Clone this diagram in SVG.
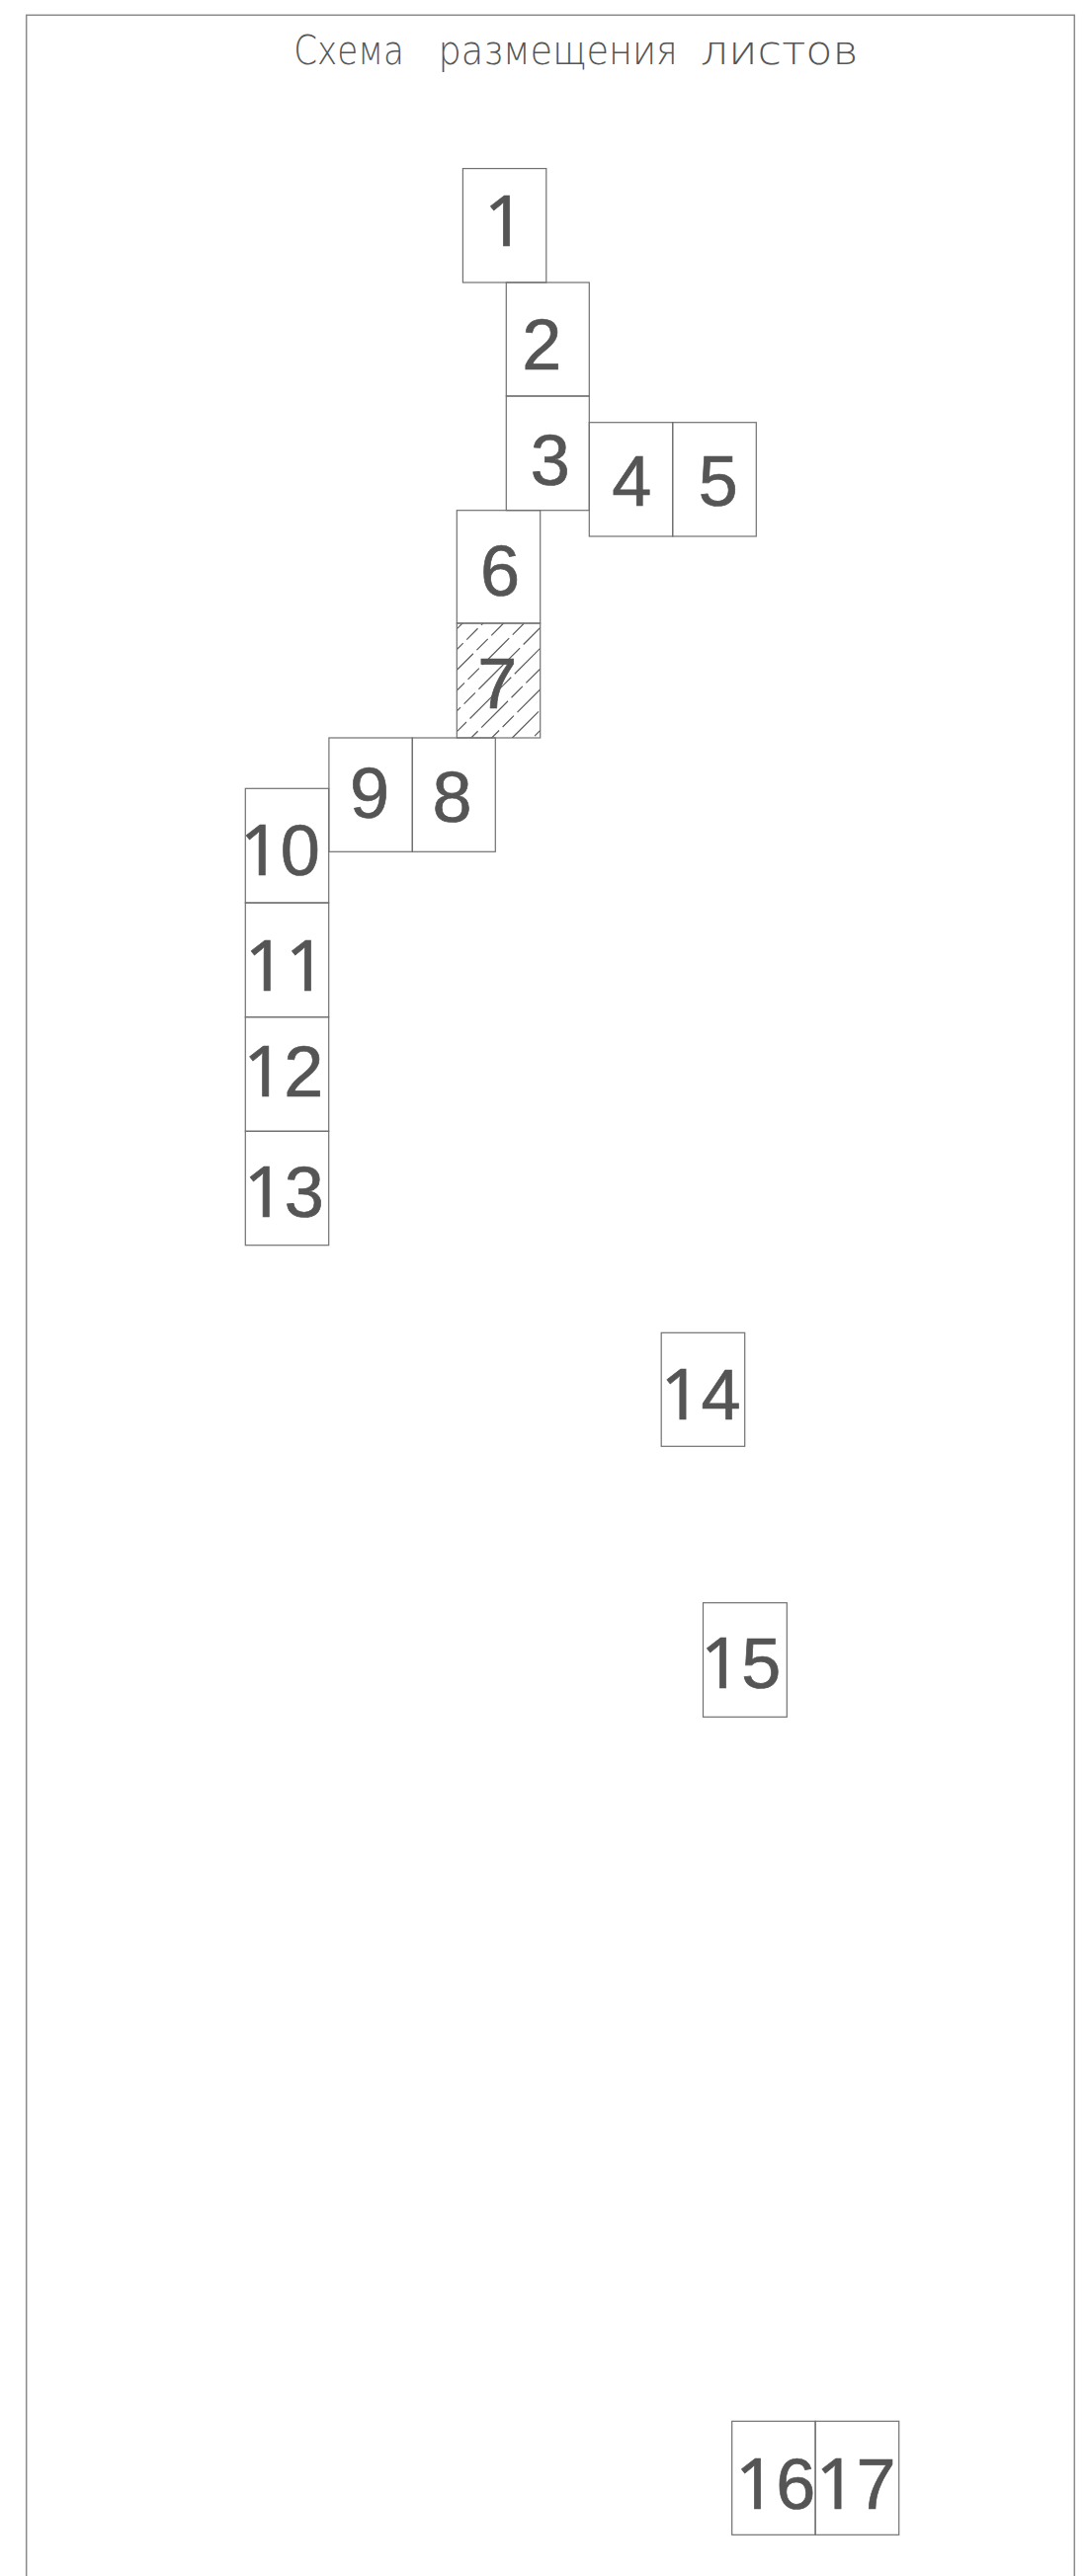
<svg xmlns="http://www.w3.org/2000/svg" width="1100" height="2608" viewBox="0 0 1100 2608">
<defs>
<style>
.frame{fill:none;stroke:#8a8a8a;stroke-width:1.5}
.box{fill:none;stroke:#707070;stroke-width:1.2}
.num{font-family:"Liberation Sans",Arial,sans-serif;font-size:72px;fill:#555555;stroke:#555555;stroke-width:0.7;text-anchor:middle}
.one{font-family:"Noto Sans","Open Sans",sans-serif}
.title{font-family:"DejaVu Sans","Liberation Sans",sans-serif;font-weight:200;font-size:40px;fill:#555555}
.hatch{stroke:#5a5a5a;stroke-width:1.2;stroke-dasharray:38 5 16 5}
</style>
<clipPath id="clip7"><rect x="462.3" y="631" width="84.4" height="116"/></clipPath>
</defs>
<rect width="1100" height="2608" fill="#ffffff"/>
<rect class="frame" x="26.7" y="15.3" width="1060.6" height="2620"/>
<g id="title">
<text class="title" x="297.3" y="65" textLength="111.5" lengthAdjust="spacingAndGlyphs">Схема</text>
<text class="title" x="443.5" y="65" textLength="242.3" lengthAdjust="spacingAndGlyphs">размещения</text>
<text class="title" x="708.8" y="65" textLength="159.7" lengthAdjust="spacingAndGlyphs">листов</text>
</g>
<g id="sheet1"><rect class="box" x="468.4" y="170.6" width="84.4" height="115.4"/><text class="num" x="510.5" y="249.3"><tspan class="one">1</tspan></text></g>
<g id="sheet2"><rect class="box" x="512.3" y="286" width="84" height="115"/><text class="num" x="548.3" y="374.3">2</text></g>
<g id="sheet3"><rect class="box" x="512.3" y="401" width="84" height="115.7"/><text class="num" x="556.7" y="491">3</text></g>
<g id="sheet4"><rect class="box" x="596.3" y="427.7" width="84.4" height="115.3"/><text class="num" x="639.3" y="512">4</text></g>
<g id="sheet5"><rect class="box" x="680.7" y="427.7" width="84.6" height="115.3"/><text class="num" x="726.7" y="512">5</text></g>
<g id="sheet6"><rect class="box" x="462.3" y="516.7" width="84.4" height="114.3"/><text class="num" x="506" y="603">6</text></g>
<g id="sheet7">
<g clip-path="url(#clip7)">
<line class="hatch" x1="339" y1="760" x2="479" y2="620"/>
<line class="hatch" x1="359.8" y1="760" x2="499.8" y2="620" stroke-dashoffset="12"/>
<line class="hatch" x1="380.6" y1="760" x2="520.6" y2="620" stroke-dashoffset="27"/>
<line class="hatch" x1="401.4" y1="760" x2="541.4" y2="620" stroke-dashoffset="5"/>
<line class="hatch" x1="422.2" y1="760" x2="562.2" y2="620" stroke-dashoffset="40"/>
<line class="hatch" x1="443" y1="760" x2="583" y2="620" stroke-dashoffset="18"/>
<line class="hatch" x1="463.8" y1="760" x2="603.8" y2="620" stroke-dashoffset="31"/>
<line class="hatch" x1="484.6" y1="760" x2="624.6" y2="620" stroke-dashoffset="9"/>
<line class="hatch" x1="505.4" y1="760" x2="645.4" y2="620" stroke-dashoffset="46"/>
<line class="hatch" x1="526.2" y1="760" x2="666.2" y2="620" stroke-dashoffset="22"/>
<line class="hatch" x1="547" y1="760" x2="687" y2="620" stroke-dashoffset="3"/>
</g>
<rect class="box" x="462.3" y="631" width="84.4" height="116"/>
<text class="num" x="503.3" y="716.7">7</text>
</g>
<g id="sheet8"><rect class="box" x="417.3" y="747" width="84" height="115.3"/><text class="num" x="457.5" y="832">8</text></g>
<g id="sheet9"><rect class="box" x="332.9" y="747" width="84.4" height="115.3"/><text class="num" x="374" y="827.5">9</text></g>
<g id="sheet10"><rect class="box" x="248.3" y="798.3" width="84.4" height="115.7"/><text class="num" x="283.3" y="886"><tspan class="one">1</tspan>0</text></g>
<g id="sheet11"><rect class="box" x="248.3" y="914" width="84.4" height="115.7"/><text class="num" x="289" y="1003.3"><tspan class="one">11</tspan></text></g>
<g id="sheet12"><rect class="box" x="248.3" y="1029.7" width="84.4" height="115.6"/><text class="num" x="286.8" y="1110"><tspan class="one">1</tspan>2</text></g>
<g id="sheet13"><rect class="box" x="248.3" y="1145.3" width="84.4" height="115.4"/><text class="num" x="287.3" y="1232"><tspan class="one">1</tspan>3</text></g>
<g id="sheet14"><rect class="box" x="669.2" y="1349.3" width="84.5" height="115"/><text class="num" x="709" y="1436.7"><tspan class="one">1</tspan>4</text></g>
<g id="sheet15"><rect class="box" x="711.5" y="1622.7" width="84.8" height="115.6"/><text class="num" x="749.6" y="1709"><tspan class="one">1</tspan>5</text></g>
<g id="sheet16"><rect class="box" x="740.7" y="2451.3" width="84.4" height="115"/><text class="num" x="784.6" y="2539.5"><tspan class="one">1</tspan>6</text></g>
<g id="sheet17"><rect class="box" x="825.1" y="2451.3" width="84.6" height="115"/><text class="num" x="866" y="2540"><tspan class="one">1</tspan>7</text></g>
<g id="connectors"></g>
</svg>
